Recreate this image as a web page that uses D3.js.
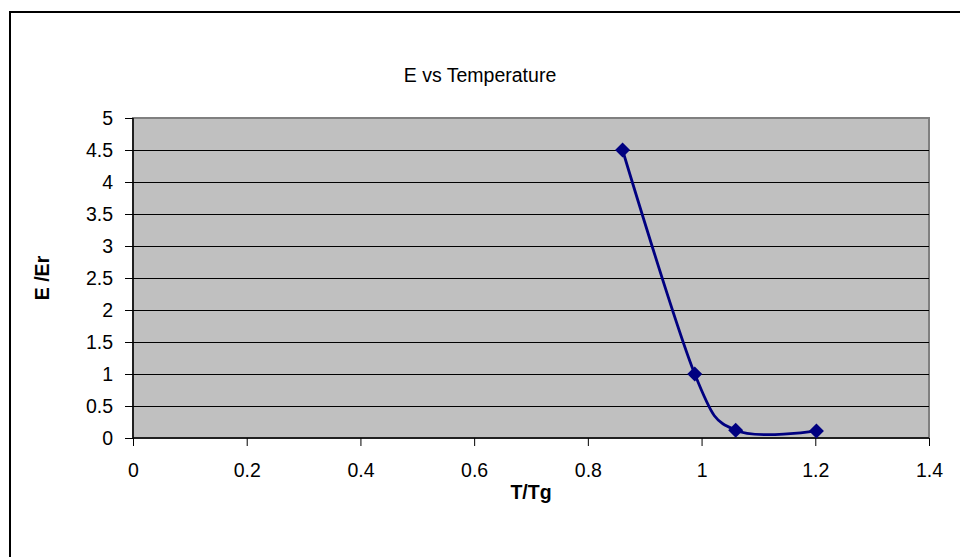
<!DOCTYPE html>
<html>
<head>
<meta charset="utf-8">
<script src="https://cdn.jsdelivr.net/npm/d3@7"></script>
<style>
  html, body { margin: 0; padding: 0; background: #fff; }
  svg { display: block; }
  text { font-family: "Liberation Sans", Arial, sans-serif; fill: #000; }
</style>
</head>
<body>
<svg id="chart" width="960" height="557"></svg>
<script>
// Data
const xValues = [0.861, 0.988, 1.06, 1.202];
const yValues = [4.5, 1.0, 0.12, 0.11];
const xTicks = [0, 0.2, 0.4, 0.6, 0.8, 1, 1.2, 1.4];
const yTicks = [0, 0.5, 1, 1.5, 2, 2.5, 3, 3.5, 4, 4.5, 5];
const chartTitle = "E vs Temperature";
const xTitle = "T/Tg";
const yTitle = "E /Er";

const svg = d3.select("#chart");
const plot = { left: 133, top: 118, right: 929, bottom: 438 };

// outer chart border (extends beyond view)
svg.append("rect")
  .attr("x", 10).attr("y", 12)
  .attr("width", 1000).attr("height", 600)
  .attr("fill", "#fff").attr("stroke", "#000").attr("stroke-width", 2);

const x = d3.scaleLinear().domain([0, 1.4]).range([plot.left, plot.right]);
const y = d3.scaleLinear().domain([0, 5]).range([plot.bottom, plot.top]);

// plot background
svg.append("rect")
  .attr("x", plot.left).attr("y", plot.top)
  .attr("width", plot.right - plot.left).attr("height", plot.bottom - plot.top)
  .attr("fill", "#c0c0c0").attr("stroke", "#808080").attr("stroke-width", 2);

// gridlines
svg.append("g").selectAll("line")
  .data(yTicks.filter(d => d > 0 && d < 5))
  .join("line")
  .attr("x1", plot.left).attr("x2", plot.right)
  .attr("y1", d => Math.round(y(d)) + 0.5).attr("y2", d => Math.round(y(d)) + 0.5)
  .attr("stroke", "#000").attr("stroke-width", 1);

// axes
const fontSize = 19.5;
const yAxis = svg.append("g")
  .attr("transform", `translate(${plot.left},0)`)
  .call(d3.axisLeft(y).tickValues(yTicks).tickSize(8).tickPadding(12).tickFormat(d3.format("~g")));
const xAxis = svg.append("g")
  .attr("transform", `translate(0,${plot.bottom})`)
  .call(d3.axisBottom(x).tickValues(xTicks).tickSize(8).tickPadding(17).tickFormat(d3.format("~g")));
[xAxis, yAxis].forEach(a => {
  a.select(".domain").attr("stroke", "#000").attr("stroke-width", 1.5);
  a.selectAll(".tick line").attr("stroke", "#000").attr("stroke-width", 1);
  a.selectAll(".tick text").attr("font-size", fontSize)
    .attr("font-family", "Liberation Sans, Arial, sans-serif").attr("fill", "#000");
});
xAxis.select(".domain").attr("d", `M${plot.left},0H${plot.right}`);
yAxis.select(".domain").attr("d", `M0,${plot.top}V${plot.bottom}`);

// line (smoothed)
const pts = xValues.map((v, i) => [v, yValues[i]]);
svg.append("path")
  .datum(pts)
  .attr("fill", "none")
  .attr("stroke", "#000080")
  .attr("stroke-width", 2.8)
  .attr("d", d3.line().x(d => x(d[0])).y(d => y(d[1])).curve(d3.curveCatmullRom.alpha(0)));

// markers
svg.append("g").selectAll("path")
  .data(pts)
  .join("path")
  .attr("transform", d => `translate(${x(d[0])},${y(d[1])})`)
  .attr("d", "M0,-7.5L7.5,0L0,7.5L-7.5,0Z")
  .attr("fill", "#000080");

// titles
svg.append("text")
  .attr("x", 480).attr("y", 82)
  .attr("text-anchor", "middle").attr("font-size", fontSize)
  .text(chartTitle);
svg.append("text")
  .attr("x", (plot.left + plot.right) / 2).attr("y", 499)
  .attr("text-anchor", "middle").attr("font-size", fontSize).attr("font-weight", "bold")
  .text(xTitle);
svg.append("text")
  .attr("transform", `translate(49,${(plot.top + plot.bottom) / 2}) rotate(-90)`)
  .attr("text-anchor", "middle").attr("font-size", fontSize).attr("font-weight", "bold")
  .text(yTitle);
</script>
</body>
</html>
